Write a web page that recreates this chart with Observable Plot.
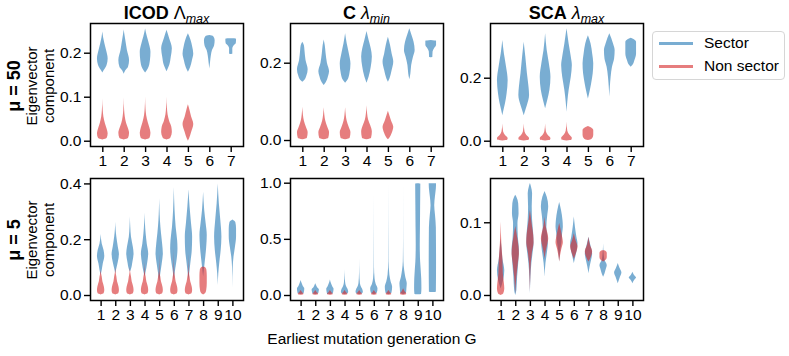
<!DOCTYPE html>
<html><head><meta charset="utf-8">
<script src="https://cdn.jsdelivr.net/npm/d3@7"></script>
<script src="https://cdn.jsdelivr.net/npm/@observablehq/plot@0.6"></script>
<style>
body{margin:0;background:#fff;}
#chart{position:relative;width:789px;height:356px;font-family:"Liberation Sans",Arial,sans-serif;color:#000;overflow:hidden;}
.panel{position:absolute;}
.title{position:absolute;width:200px;text-align:center;font-size:18px;line-height:20px;white-space:nowrap;}
.title b{font-weight:bold;}
.title .sub{font-size:12.5px;font-style:italic;position:relative;top:0.35em;}
.rowlab{position:absolute;width:160px;text-align:center;line-height:17px;font-size:15px;transform:translate(-50%,-50%) rotate(-90deg);white-space:nowrap;}
.rowlab .mu{font-weight:bold;font-size:18px;}
.xlab{position:absolute;font-size:15.5px;white-space:nowrap;transform:translate(-50%,-50%);}
.legend{position:absolute;left:652px;top:31px;width:133px;height:49px;border:1px solid #d6d6d6;border-radius:4px;box-sizing:border-box;}
.legend .row{position:absolute;left:6px;height:20px;display:flex;align-items:center;font-size:15.5px;white-space:nowrap;}
.legend .sw{width:34px;height:3px;margin-right:11px;}
</style>
</head><body>
<div id="chart"></div>
<script>
// ---------- data ----------
const gTop = [1, 2, 3, 4, 5, 6, 7];
const gBottom = [1, 2, 3, 4, 5, 6, 7, 8, 9, 10];
const seriesNames = ["Sector", "Non sector"];
const rowLabels = ["μ = 50", "μ = 5"];
const panelTitles = [["ICOD", "Λ", "max"], ["C", "λ", "min"], ["SCA", "λ", "max"]];
const xLabel = "Earliest mutation generation G";

// y axis ticks / limits per panel
const icod50Ticks = [0.0, 0.1, 0.2];
const c50Ticks = [0.0, 0.2];
const sca50Ticks = [0.0, 0.2];
const icod5Ticks = [0.0, 0.2, 0.4];
const c5Ticks = [0.0, 0.5, 1.0];
const sca5Ticks = [0.0, 0.1];
const icod50Y = [-0.012, 0.2675];
const c50Y = [-0.0155, 0.3027];
const sca50Y = [-0.0168, 0.3737];
const icod5Y = [-0.0179, 0.4194];
const c5Y = [-0.0445, 1.0418];
const sca5Y = [-0.0069, 0.1609];
const xTopLim = [0.425, 7.575];
const xBottomLim = [0.275, 10.725];

// violins: one list per G, knots [value, relative density width]
const icod50Sector = [
  [[0.155,0],[0.161,0.3],[0.172,0.8],[0.187,1],[0.206,0.7],[0.221,0.4],[0.235,0.15],[0.248,0]],
  [[0.152,0],[0.160,0.3],[0.168,0.8],[0.183,1],[0.206,0.6],[0.229,0.3],[0.240,0.15],[0.253,0]],
  [[0.155,0],[0.164,0.5],[0.183,0.9],[0.202,1],[0.221,0.7],[0.236,0.35],[0.255,0]],
  [[0.158,0],[0.172,0.5],[0.191,0.8],[0.210,1],[0.233,0.5],[0.252,0]],
  [[0.157,0],[0.167,0.4],[0.183,0.75],[0.198,1],[0.214,0.8],[0.229,0.5],[0.244,0]],
  [[0.164,0],[0.180,0.15],[0.195,0.3],[0.206,0.5],[0.217,0.9],[0.229,1],[0.238,0.7],[0.240,0]],
  [[0.197,0],[0.1975,0.3],[0.210,0.3],[0.216,0.5],[0.222,0.95],[0.230,1],[0.2325,0.95],[0.233,0]]
];
const icod50Non = [
  [[0.003,0],[0.006,0.8],[0.017,1],[0.028,0.8],[0.039,0.5],[0.055,0.2],[0.070,0.08],[0.096,0]],
  [[0.003,0],[0.006,0.8],[0.018,1],[0.030,0.75],[0.040,0.45],[0.055,0.2],[0.070,0.08],[0.098,0]],
  [[0.003,0],[0.006,0.8],[0.018,1],[0.030,0.8],[0.042,0.5],[0.058,0.2],[0.072,0.08],[0.100,0]],
  [[0.003,0],[0.007,0.7],[0.020,1],[0.032,0.9],[0.045,0.5],[0.060,0.2],[0.075,0.08],[0.100,0]],
  [[0.000,0],[0.005,0.2],[0.020,0.6],[0.038,1],[0.055,0.6],[0.070,0.3],[0.083,0]]
];
const c50Sector = [
  [[0.151,0],[0.156,0.4],[0.166,0.75],[0.183,1],[0.207,0.6],[0.233,0.4],[0.245,0.3],[0.254,0]],
  [[0.142,0],[0.150,0.4],[0.165,0.8],[0.178,1],[0.200,0.6],[0.225,0.35],[0.245,0.2],[0.260,0]],
  [[0.148,0],[0.155,0.4],[0.172,0.8],[0.198,1],[0.224,0.7],[0.250,0.3],[0.276,0]],
  [[0.148,0],[0.164,0.4],[0.190,0.8],[0.216,1],[0.237,0.8],[0.259,0.4],[0.282,0]],
  [[0.151,0],[0.160,0.3],[0.181,0.7],[0.203,1],[0.224,0.7],[0.246,0.4],[0.267,0]],
  [[0.157,0],[0.172,0.2],[0.194,0.35],[0.216,0.7],[0.233,1],[0.254,0.8],[0.272,0.4],[0.289,0]],
  [[0.214,0],[0.2145,0.3],[0.229,0.35],[0.237,0.6],[0.246,1],[0.257,1],[0.259,0]]
];
const c50Non = [
  [[0.002,0],[0.006,0.85],[0.020,1],[0.035,0.65],[0.050,0.3],[0.065,0.12],[0.086,0]],
  [[0.002,0],[0.006,0.85],[0.020,1],[0.035,0.65],[0.050,0.3],[0.065,0.12],[0.085,0]],
  [[0.002,0],[0.006,0.85],[0.020,1],[0.035,0.65],[0.050,0.3],[0.065,0.12],[0.085,0]],
  [[0.002,0],[0.006,0.85],[0.022,1],[0.038,0.7],[0.053,0.3],[0.068,0.12],[0.090,0]],
  [[0.002,0],[0.008,0.35],[0.018,0.7],[0.034,1],[0.050,0.6],[0.063,0.3],[0.076,0]]
];
const sca50Sector = [
  [[0.081,0],[0.097,0.2],[0.119,0.5],[0.150,0.8],[0.193,1],[0.235,0.7],[0.277,0.3],[0.320,0]],
  [[0.081,0],[0.092,0.2],[0.113,0.6],[0.145,1],[0.171,0.9],[0.214,0.6],[0.267,0.3],[0.314,0]],
  [[0.103,0],[0.129,0.4],[0.161,0.8],[0.203,1],[0.246,0.7],[0.288,0.3],[0.341,0]],
  [[0.092,0],[0.124,0.15],[0.161,0.4],[0.203,0.8],[0.240,1],[0.267,0.8],[0.309,0.4],[0.357,0]],
  [[0.134,0],[0.156,0.3],[0.182,0.6],[0.214,0.9],[0.246,1],[0.277,0.8],[0.309,0.5],[0.335,0]],
  [[0.140,0],[0.171,0.1],[0.203,0.25],[0.235,0.5],[0.261,0.9],[0.288,1],[0.309,0.7],[0.341,0]],
  [[0.235,0],[0.240,0.3],[0.256,0.7],[0.277,1],[0.314,1],[0.322,0.6],[0.327,0]]
];
const sca50Non = [
  [[0.001,0],[0.003,0.9],[0.008,1],[0.018,0.5],[0.029,0.15],[0.055,0]],
  [[0.001,0],[0.003,0.9],[0.008,1],[0.018,0.5],[0.029,0.15],[0.055,0]],
  [[0.001,0],[0.003,0.9],[0.008,1],[0.018,0.5],[0.029,0.15],[0.055,0]],
  [[0.001,0],[0.003,0.9],[0.009,1],[0.020,0.5],[0.032,0.15],[0.060,0]],
  [[0.002,0],[0.006,0.7],[0.018,1],[0.034,1],[0.042,0.6],[0.047,0]]
];
const icod5Sector = [
  [[0.072,0],[0.090,0.3],[0.114,0.6],[0.140,1],[0.161,0.8],[0.185,0.3],[0.219,0]],
  [[0.078,0],[0.096,0.3],[0.119,0.7],[0.147,1],[0.173,0.7],[0.209,0.3],[0.235,0.1],[0.263,0]],
  [[0.084,0],[0.090,0.2],[0.120,0.7],[0.149,1],[0.173,0.8],[0.209,0.3],[0.245,0.1],[0.281,0]],
  [[0.066,0],[0.084,0.3],[0.114,0.7],[0.149,1],[0.185,0.6],[0.221,0.3],[0.260,0.1],[0.295,0]],
  [[0.048,0],[0.078,0.3],[0.114,0.7],[0.149,1],[0.185,0.8],[0.221,0.5],[0.269,0.2],[0.310,0.07],[0.346,0]],
  [[0.054,0],[0.066,0.1],[0.096,0.4],[0.131,0.8],[0.167,1],[0.197,0.9],[0.245,0.5],[0.305,0.2],[0.386,0]],
  [[0.054,0],[0.078,0.2],[0.114,0.5],[0.161,0.9],[0.209,1],[0.257,0.7],[0.317,0.3],[0.379,0]],
  [[0.066,0],[0.090,0.2],[0.126,0.5],[0.173,0.85],[0.215,1],[0.257,0.7],[0.305,0.3],[0.370,0]],
  [[0.036,0],[0.078,0.15],[0.114,0.4],[0.161,0.8],[0.209,1],[0.269,0.7],[0.329,0.3],[0.400,0]],
  [[0.027,0],[0.102,0.1],[0.137,0.3],[0.173,0.7],[0.209,1],[0.239,1],[0.262,0.8],[0.271,0]]
];
const icod5Non = [
  [[0.002,0],[0.006,0.8],[0.018,1],[0.030,0.9],[0.048,0.5],[0.066,0.3],[0.078,0.12],[0.090,0]],
  [[0.002,0],[0.006,0.8],[0.018,1],[0.030,0.9],[0.048,0.5],[0.066,0.3],[0.080,0.12],[0.100,0]],
  [[0.002,0],[0.006,0.8],[0.018,1],[0.030,0.9],[0.048,0.5],[0.066,0.3],[0.080,0.12],[0.100,0]],
  [[0.002,0],[0.006,0.8],[0.018,1],[0.030,0.9],[0.048,0.5],[0.066,0.3],[0.082,0.1],[0.120,0]],
  [[0.002,0],[0.006,0.8],[0.018,1],[0.030,0.9],[0.048,0.5],[0.066,0.3],[0.085,0.08],[0.150,0]],
  [[0.002,0],[0.006,0.8],[0.018,1],[0.030,0.9],[0.048,0.5],[0.066,0.3],[0.085,0.08],[0.170,0]],
  [[0.002,0],[0.006,0.8],[0.018,1],[0.030,0.9],[0.048,0.5],[0.066,0.3],[0.085,0.08],[0.150,0]],
  [[0.002,0],[0.006,0.5],[0.018,0.85],[0.042,1],[0.070,1],[0.090,0.9],[0.100,0.5],[0.102,0]]
];
const c5Sector = [
  [[0.009,0],[0.015,0.8],[0.030,0.9],[0.059,1],[0.080,0.6],[0.104,0.3],[0.134,0]],
  [[0.009,0],[0.015,0.8],[0.030,0.9],[0.050,1],[0.070,0.5],[0.090,0.2],[0.104,0]],
  [[0.009,0],[0.015,0.8],[0.030,0.9],[0.055,1],[0.080,0.6],[0.104,0.3],[0.139,0]],
  [[0.009,0],[0.015,0.8],[0.030,1],[0.055,0.8],[0.080,0.4],[0.119,0.15],[0.170,0.05],[0.228,0]],
  [[0.009,0],[0.015,0.8],[0.030,1],[0.055,0.8],[0.080,0.4],[0.104,0.2],[0.200,0.04],[0.326,0]],
  [[0.009,0],[0.020,0.8],[0.059,1],[0.100,0.5],[0.150,0.2],[0.250,0.05],[0.890,0]],
  [[0.009,0],[0.020,0.8],[0.074,1],[0.120,0.6],[0.180,0.25],[0.300,0.05],[0.988,0]],
  [[0.009,0],[0.020,0.8],[0.060,0.9],[0.104,1],[0.160,0.6],[0.220,0.3],[0.300,0.08],[0.500,0.02],[0.980,0]],
  [[0.006,0],[0.010,0.9],[0.060,1],[0.150,0.95],[0.300,0.65],[0.450,0.55],[0.600,0.6],[0.800,0.65],[0.990,0.7],[0.994,0]],
  [[0.027,0],[0.030,0.95],[0.300,1],[0.600,0.95],[0.720,0.7],[0.800,0.5],[0.880,0.7],[0.950,0.95],[0.994,1],[0.995,0]]
];
const c5Non = [
  [[0.002,0],[0.004,0.6],[0.012,0.75],[0.025,0.4],[0.045,0]],
  [[0.002,0],[0.004,0.6],[0.012,0.75],[0.025,0.4],[0.045,0]],
  [[0.002,0],[0.004,0.6],[0.012,0.75],[0.025,0.4],[0.045,0]],
  [[0.002,0],[0.004,0.6],[0.012,0.75],[0.025,0.4],[0.045,0]],
  [[0.002,0],[0.004,0.6],[0.012,0.75],[0.025,0.4],[0.045,0]],
  [[0.002,0],[0.004,0.6],[0.012,0.75],[0.025,0.4],[0.045,0]],
  [[0.002,0],[0.004,0.6],[0.012,0.75],[0.025,0.4],[0.045,0]],
  [[0.002,0],[0.004,0.7],[0.015,0.85],[0.030,0.5],[0.060,0]]
];
const sca5Sector = [
  [[0.009,0],[0.021,0.7],[0.034,1],[0.050,0.5],[0.066,0.2],[0.078,0]],
  [[0.000,0],[0.007,0.3],[0.025,0.5],[0.044,0.8],[0.062,1],[0.080,0.7],[0.099,0.6],[0.112,0.9],[0.126,0.8],[0.135,0.3],[0.138,0]],
  [[0.002,0],[0.025,0.15],[0.044,0.4],[0.057,0.7],[0.071,1],[0.085,0.9],[0.103,0.6],[0.122,0.5],[0.140,0.6],[0.149,0.3],[0.154,0]],
  [[0.025,0],[0.044,0.25],[0.057,0.6],[0.071,0.9],[0.080,0.8],[0.094,0.5],[0.108,0.7],[0.122,1],[0.135,0.6],[0.143,0]],
  [[0.046,0],[0.062,0.3],[0.073,0.6],[0.085,0.8],[0.094,1],[0.103,0.9],[0.117,0.5],[0.128,0]],
  [[0.044,0],[0.053,0.4],[0.062,0.8],[0.071,1],[0.080,0.7],[0.094,0.3],[0.108,0]],
  [[0.030,0],[0.039,0.3],[0.048,0.7],[0.057,1],[0.069,0.5],[0.080,0]],
  [[0.025,0],[0.030,0.4],[0.037,0.8],[0.041,1],[0.048,0.4],[0.060,0.1],[0.071,0]],
  [[0.016,0],[0.025,0.6],[0.031,1],[0.037,0.5],[0.044,0]],
  [[0.016,0],[0.021,0.5],[0.024,1],[0.028,0.4],[0.032,0]]
];
const sca5Non = [
  [[0.000,0],[0.002,0.7],[0.009,1],[0.016,0.9],[0.030,0.6],[0.048,0.5],[0.071,0.2],[0.101,0]],
  [[0.002,0],[0.025,0.3],[0.044,0.7],[0.057,1],[0.066,0.9],[0.080,0.5],[0.089,0.2],[0.095,0]],
  [[0.005,0],[0.025,0.1],[0.044,0.25],[0.060,0.6],[0.073,1],[0.083,0.9],[0.094,0.6],[0.105,0.3],[0.117,0]],
  [[0.050,0],[0.060,0.3],[0.069,0.7],[0.078,1],[0.085,0.8],[0.095,0.3],[0.108,0]],
  [[0.046,0],[0.055,0.25],[0.064,0.6],[0.073,1],[0.080,0.8],[0.090,0.4],[0.099,0]],
  [[0.050,0],[0.058,0.6],[0.067,1],[0.075,0.5],[0.085,0]],
  [[0.046,0],[0.052,0.6],[0.060,1],[0.069,0.4],[0.080,0]],
  [[0.046,0],[0.048,0.6],[0.052,1],[0.058,1],[0.061,0.6],[0.062,0],[0.070,0]]
];

// ---------- layout / style ----------
const colors = {"Sector": "#1f77b4", "Non sector": "#d62728"};
const alpha = 0.6;
const halfWidth = 0.25;
const frameW = 153;
const colLeft = [90, 290, 490];
const rowTop = [23, 178];
const rowH = [123, 122];
const mL = 45, mR = 6, mT = 4, mB = 30;
const fontStack = "'Liberation Sans', Arial, sans-serif";

const panels = [
  {row:0,col:0,sector:icod50Sector,non:icod50Non,yd:icod50Y,yt:icod50Ticks},
  {row:0,col:1,sector:c50Sector,non:c50Non,yd:c50Y,yt:c50Ticks},
  {row:0,col:2,sector:sca50Sector,non:sca50Non,yd:sca50Y,yt:sca50Ticks},
  {row:1,col:0,sector:icod5Sector,non:icod5Non,yd:icod5Y,yt:icod5Ticks},
  {row:1,col:1,sector:c5Sector,non:c5Non,yd:c5Y,yt:c5Ticks},
  {row:1,col:2,sector:sca5Sector,non:sca5Non,yd:sca5Y,yt:sca5Ticks}
];

function rows(violins, series) {
  const out = [];
  violins.forEach((knots, i) => knots.forEach(([y, w]) => out.push({g: i + 1, y, w, series})));
  return out;
}

const chart = document.getElementById("chart");

panels.forEach(p => {
  const top = p.row === 0;
  const xt = top ? gTop : gBottom;
  const xd = top ? xTopLim : xBottomLim;
  const areaOpts = s => ({
    y: "y",
    x1: d => d.g - d.w * halfWidth,
    x2: d => d.g + d.w * halfWidth,
    z: "g",
    fill: colors[s],
    fillOpacity: alpha,
    curve: "monotone-y"
  });
  const plot = Plot.plot({
    width: mL + frameW + mR,
    height: mT + rowH[p.row] + mB,
    marginLeft: mL, marginRight: mR, marginTop: mT, marginBottom: mB,
    x: {domain: xd},
    y: {domain: p.yd},
    style: {fontFamily: fontStack, fontSize: "15.5px", color: "black", background: "transparent", overflow: "visible"},
    marks: [
      Plot.areaX(rows(p.sector, seriesNames[0]), areaOpts(seriesNames[0])),
      Plot.areaX(rows(p.non, seriesNames[1]), areaOpts(seriesNames[1])),
      Plot.axisX({ticks: xt, tickFormat: d => String(d), tickSize: 6, tickPadding: 2, strokeWidth: 1.4, fontSize: 15.5, label: null}),
      Plot.axisY({ticks: p.yt, tickFormat: ".1f", tickSize: 6, tickPadding: 3, strokeWidth: 1.4, fontSize: 15.5, label: null}),
      Plot.frame({stroke: "black", strokeWidth: 1.5})
    ]
  });
  const wrap = document.createElement("div");
  wrap.className = "panel";
  wrap.style.left = (colLeft[p.col] - mL) + "px";
  wrap.style.top = (rowTop[p.row] - mT) + "px";
  wrap.appendChild(plot);
  chart.appendChild(wrap);
});

// titles
panelTitles.forEach((t, i) => {
  const d = document.createElement("div");
  d.className = "title";
  d.style.left = (colLeft[i] + frameW / 2 - 100) + "px";
  d.style.top = "3px";
  const italicSym = i > 0 ? "font-style:italic;" : "";
  d.innerHTML = `<b>${t[0]}</b> <span style="${italicSym}">${t[1]}</span><span class="sub">${t[2]}</span>`;
  chart.appendChild(d);
});

// row labels
rowLabels.forEach((lab, r) => {
  const d = document.createElement("div");
  d.className = "rowlab";
  d.style.left = "30.5px";
  d.style.top = (rowTop[r] + rowH[r] / 2 + 1) + "px";
  d.innerHTML = `<div class="mu">${lab}</div><div>Eigenvector</div><div>component</div>`;
  chart.appendChild(d);
});

// x label
const xl = document.createElement("div");
xl.className = "xlab";
xl.style.left = "372px";
xl.style.top = "339px";
xl.textContent = xLabel;
chart.appendChild(xl);

// legend
const lg = document.createElement("div");
lg.className = "legend";
seriesNames.forEach((s, i) => {
  const r = document.createElement("div");
  r.className = "row";
  r.style.top = (1 + i * 23) + "px";
  r.innerHTML = `<div class="sw" style="background:${colors[s]};opacity:${alpha}"></div><span>${s}</span>`;
  lg.appendChild(r);
});
chart.appendChild(lg);
</script>
</body></html>
